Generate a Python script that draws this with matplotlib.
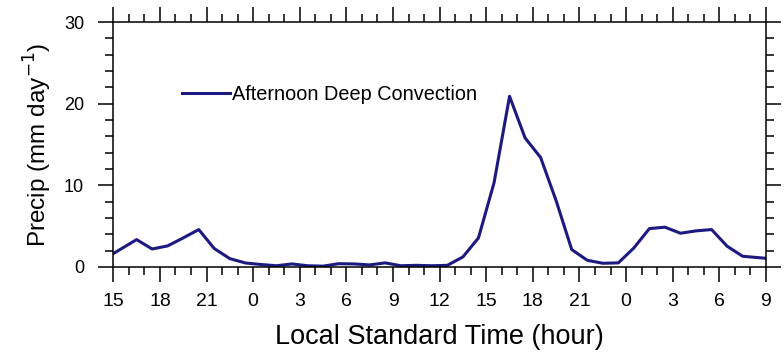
import numpy as np
import matplotlib.pyplot as plt
from matplotlib.ticker import MultipleLocator

# hours since 15 LST on day 1
hours = [0, 1.5, 2.5, 3.5, 4.5, 5.5, 6.5, 7.5, 8.5, 9.5, 10.5, 11.5, 12.5, 13.5,
         14.5, 15.5, 16.5, 17.5, 18.5, 19.5, 20.5, 21.5, 22.5, 23.5, 24.5, 25.5,
         26.5, 27.5, 28.5, 29.5, 30.5, 31.5, 32.5, 33.5, 34.5, 35.5, 36.5, 37.5,
         38.5, 39.5, 40.5, 42]
precip = [1.64, 3.35, 2.2, 2.58, 3.56, 4.58, 2.25, 1.02, 0.49, 0.3, 0.15, 0.37,
          0.15, 0.1, 0.4, 0.37, 0.25, 0.5, 0.15, 0.2, 0.15, 0.2, 1.23, 3.56,
          10.3, 20.9, 15.8, 13.4, 8.1, 2.13, 0.82, 0.45, 0.5, 2.33, 4.7, 4.87,
          4.13, 4.42, 4.58, 2.54, 1.31, 1.06]
tick_pos = list(range(0, 43, 3))
tick_labels = ["15", "18", "21", "0", "3", "6", "9", "12", "15", "18", "21",
               "0", "3", "6", "9"]

plt.rcParams["font.family"] = ["Liberation Sans", "DejaVu Sans"]

fig = plt.figure(figsize=(7.84, 3.55), dpi=100)
ax = fig.add_axes([0.1445, 0.248, 0.8325, 0.69])

line_color = "#1c1a80"
ax.plot(hours, precip, color=line_color, lw=2.2, label="Afternoon Deep Convection")

ax.set_xlim(0, 42)
ax.set_ylim(0, 30)
ax.set_xticks(tick_pos)
ax.set_xticklabels(tick_labels)
ax.xaxis.set_minor_locator(MultipleLocator(1))
ax.set_yticks([0, 10, 20, 30])
ax.yaxis.set_minor_locator(MultipleLocator(2))

ax.tick_params(which="both", direction="out", top=True, right=True,
               labeltop=False, labelright=False, width=1.1, color="black")
ax.tick_params(which="major", length=11)
ax.tick_params(which="minor", length=5.5)
ax.tick_params(axis="x", which="major", labelsize=14, pad=8)
ax.tick_params(axis="y", which="major", labelsize=13, pad=10)
for s in ax.spines.values():
    s.set_linewidth(1.1)

ax.set_xlabel("Local Standard Time (hour)", fontsize=19.5, labelpad=10)
ax.set_ylabel("Precip (mm day$^{-1}$)", fontsize=17.5, labelpad=7)

ax.legend(loc="upper left", bbox_to_anchor=(0.093, 0.777), frameon=False,
          fontsize=14.3, handlelength=2.4, handletextpad=0.1, borderaxespad=0)

fig.savefig("out.png", dpi=100)
